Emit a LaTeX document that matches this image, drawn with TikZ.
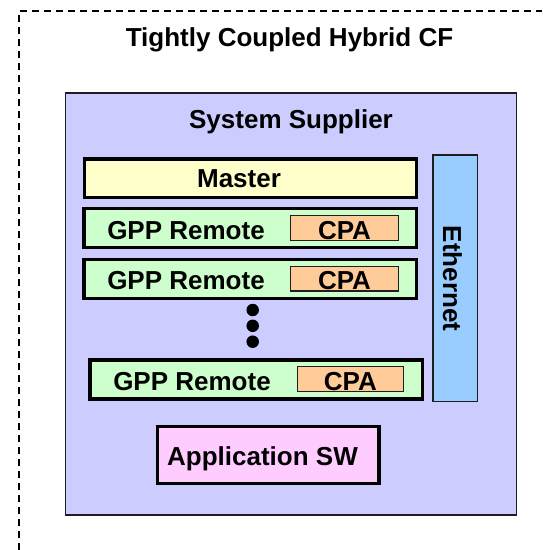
\documentclass[tikz,border=0pt]{standalone}
\usepackage{fontspec}
\setmainfont{Liberation Sans}
\usepackage{xcolor}
\definecolor{suppliercolor}{RGB}{204,204,255}
\definecolor{mastercolor}{RGB}{255,255,204}
\definecolor{remotecolor}{RGB}{204,255,204}
\definecolor{cpacolor}{RGB}{255,204,153}
\definecolor{ethernetcolor}{RGB}{153,204,255}
\definecolor{appcolor}{RGB}{255,204,255}
\definecolor{edgecolor}{RGB}{30,30,30}

\begin{document}
\begin{tikzpicture}[x=1pt,y=-1pt]
  \tikzset{
    box/.style={
      draw,
      rectangle,
      inner sep=0pt,
      anchor=center
    },
    heavybox/.style={
      box,
      line width=3.3pt,
      draw=black
    },
    lbl/.style={
      font=\fontsize{26}{30}\selectfont\bfseries,
      inner sep=0pt,
      anchor=base
    },
    ellipsisdot/.style={
      circle,
      fill=black,
      inner sep=0pt,
      minimum size=12.5pt
    }
  }
  \useasboundingbox (0,0) rectangle (542,550);

  % Draw the outer dashed frame
  \draw[black, line width=1.4pt, dash pattern=on 7pt off 5pt] (19,550) -- (19,11) -- (542,11);
  \node[lbl] (title) at (289.5,46.7) {Tightly Coupled Hybrid CF};

  % System supplier box
  \node[box, draw=edgecolor, line width=1.6pt, fill=suppliercolor,
        minimum width=451pt, minimum height=422pt] (supplier) at (290.8,304) {};
  \node[lbl] (supplierlbl) at (291,128) {System Supplier};

  % Master
  \node[heavybox, fill=mastercolor, minimum width=332.3pt, minimum height=38.7pt] (master) at (250.5,178.3) {};
  \node[lbl] (masterlbl) at (239,187.3) {Master};

  % GPP remotes with their CPA
  \node[heavybox, fill=remotecolor, minimum width=332.7pt, minimum height=39.2pt] (gpp1) at (250.3,228) {};
  \node[lbl] (gpp1lbl) at (186,239) {GPP Remote};
  \node[box, draw=edgecolor, line width=1.3pt, fill=cpacolor, minimum width=107.7pt, minimum height=24.7pt] (cpa1) at (344.5,228) {};
  \node[lbl] (cpa1lbl) at (344.5,239) {CPA};

  \node[heavybox, fill=remotecolor, minimum width=332.7pt, minimum height=39.2pt] (gpp2) at (250.3,278.8) {};
  \node[lbl] (gpp2lbl) at (186,289.8) {GPP Remote};
  \node[box, draw=edgecolor, line width=1.3pt, fill=cpacolor, minimum width=107.7pt, minimum height=24.7pt] (cpa2) at (344.5,278.7) {};
  \node[lbl] (cpa2lbl) at (344.5,289.7) {CPA};

  % Ellipsis
  \node[ellipsisdot] (dot1) at (252.7,310) {};
  \node[ellipsisdot] (dot2) at (252.7,325.8) {};
  \node[ellipsisdot] (dot3) at (252.7,341.7) {};

  \node[heavybox, fill=remotecolor, minimum width=332.7pt, minimum height=39.2pt] (gpp3) at (256.3,379.5) {};
  \node[lbl] (gpp3lbl) at (192,390.5) {GPP Remote};
  \node[box, draw=edgecolor, line width=1.3pt, fill=cpacolor, minimum width=106pt, minimum height=25pt] (cpa3) at (350.3,379.2) {};
  \node[lbl] (cpa3lbl) at (350.3,390.3) {CPA};

  % Ethernet bus
  \node[box, draw=edgecolor, line width=1.4pt, fill=ethernetcolor, minimum width=44.6pt, minimum height=246.6pt] (ethernet) at (455.3,278.3) {};
  \node[font=\fontsize{26}{30}\selectfont\bfseries, inner sep=0pt, rotate=-90] (ethernetlbl) at (452.5,278.4) {Ethernet};

  % Application software
  \node[heavybox, fill=appcolor, minimum width=221.7pt, minimum height=57pt] (appsw) at (268.2,455.2) {};
  \node[lbl] (appswlbl) at (262.5,465) {Application SW};
\end{tikzpicture}
\end{document}
